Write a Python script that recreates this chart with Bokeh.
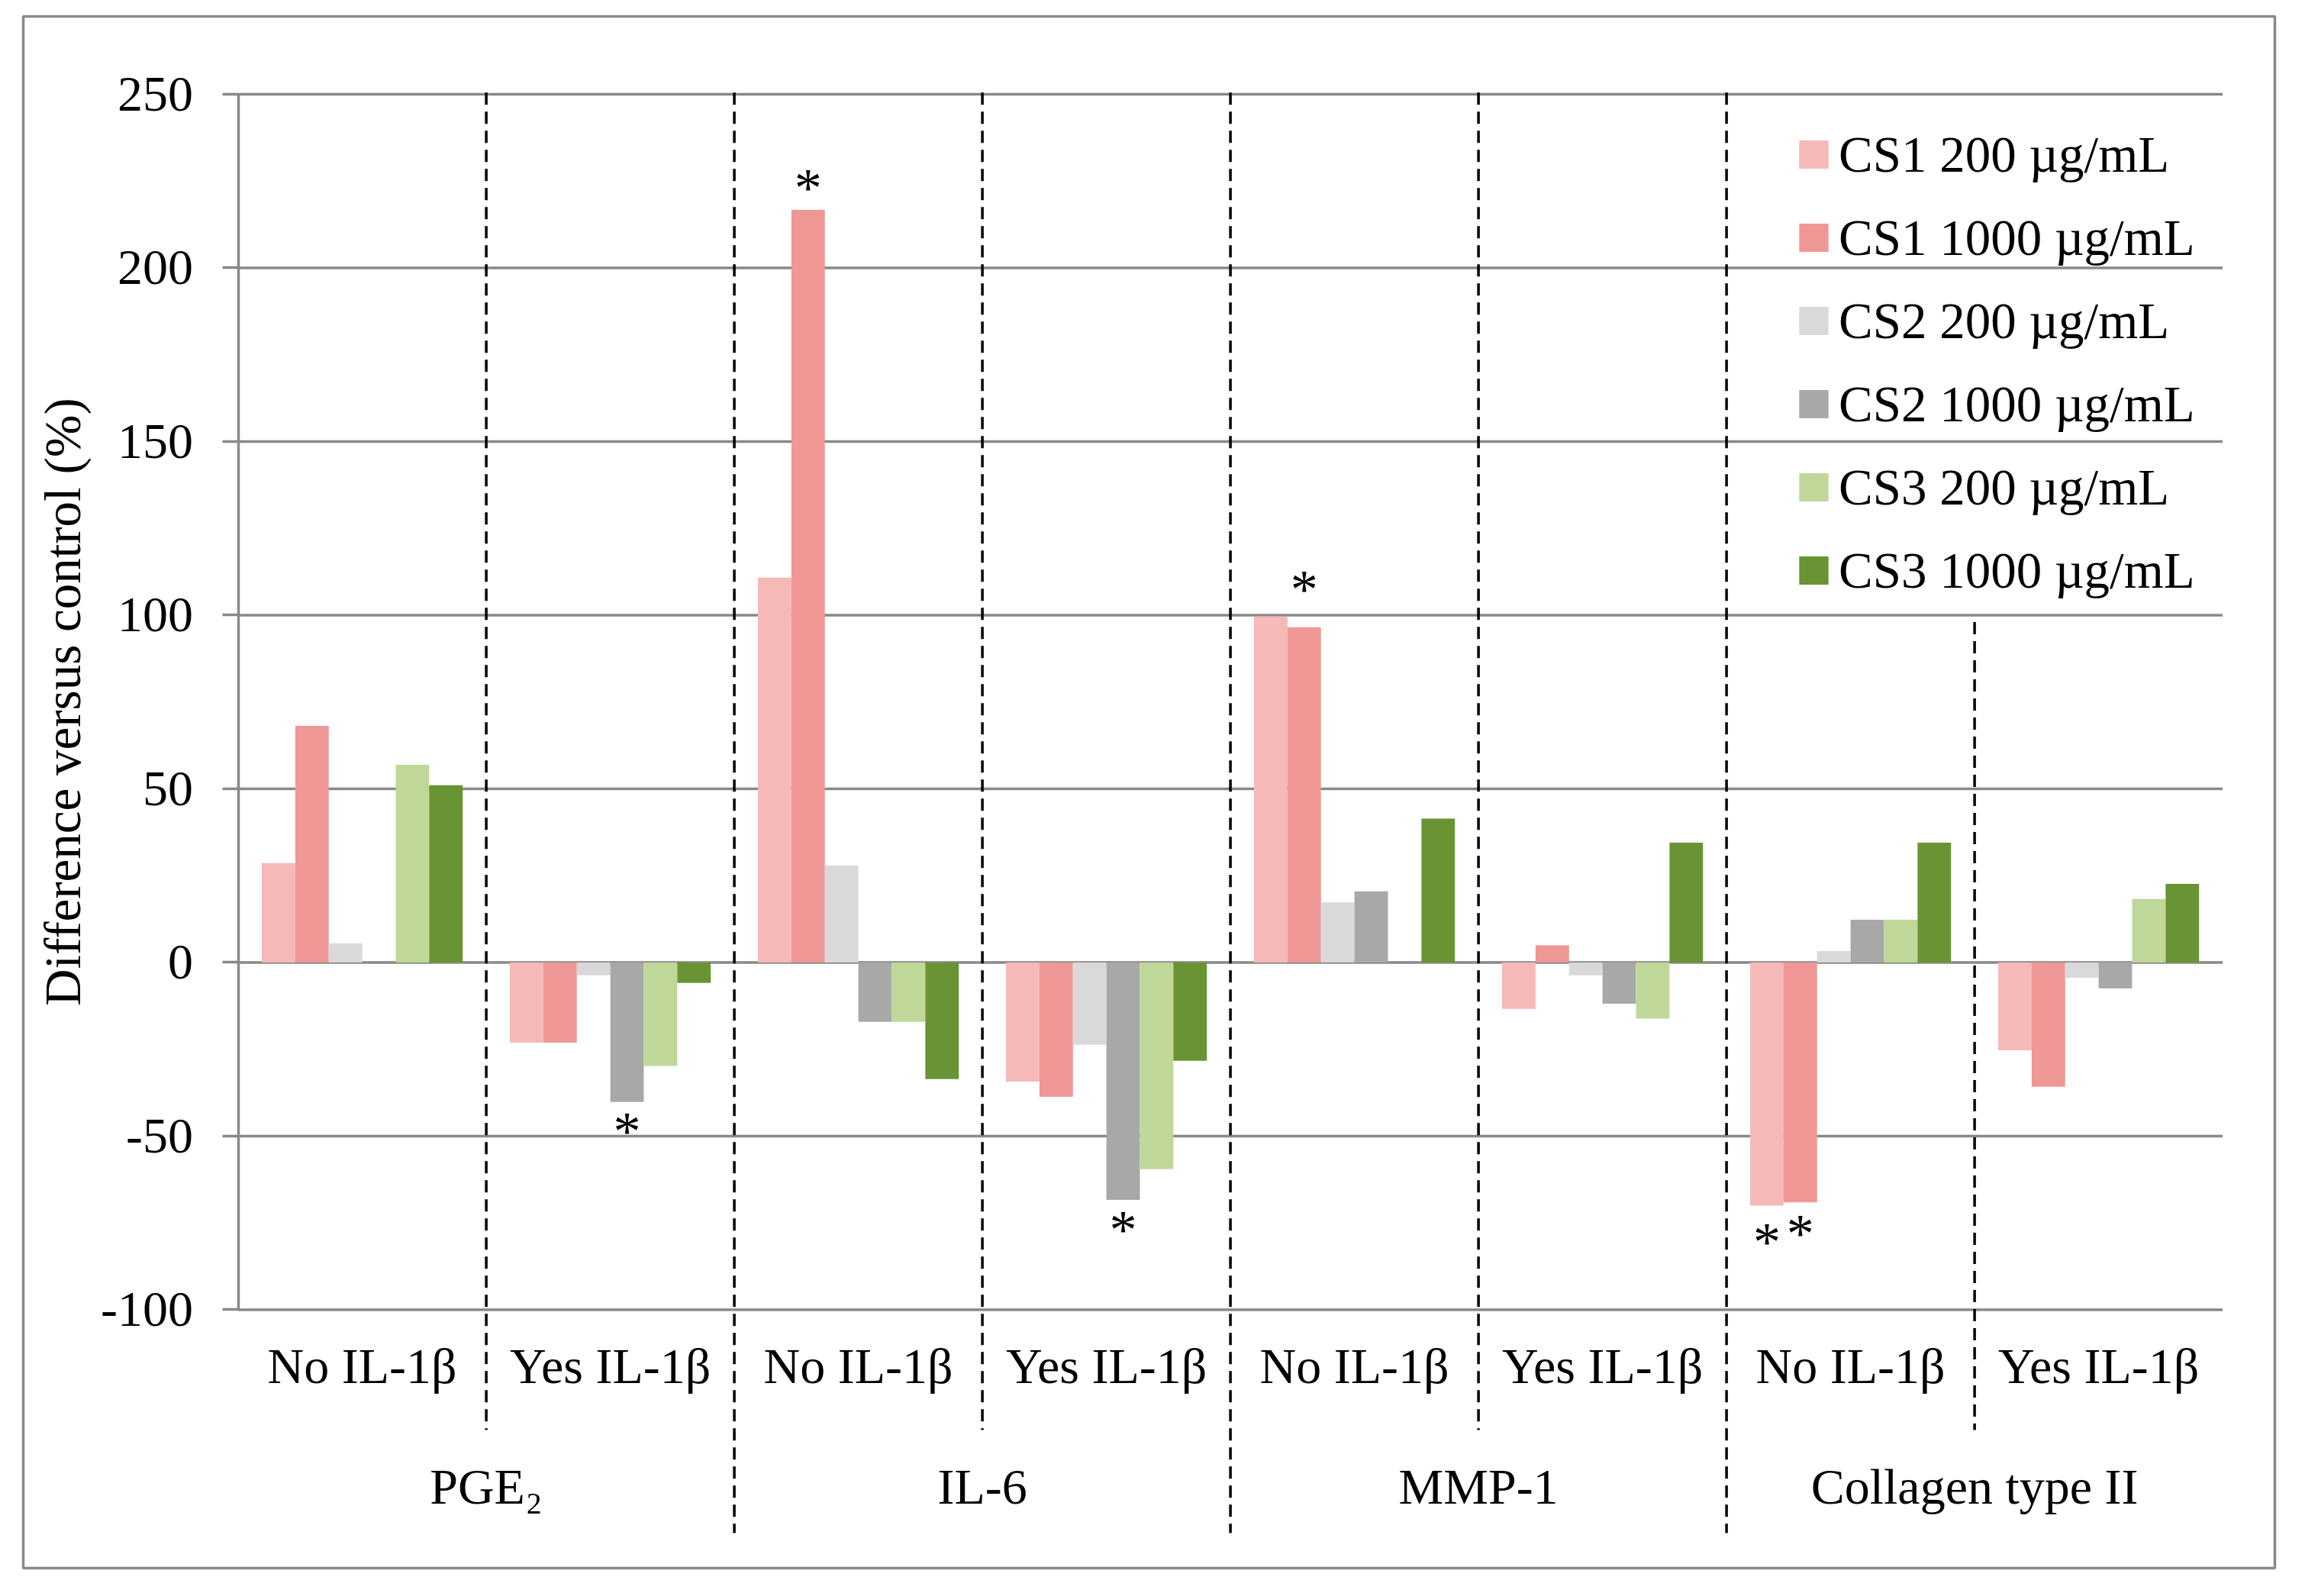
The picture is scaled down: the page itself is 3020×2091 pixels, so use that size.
from bokeh.plotting import figure
from bokeh.models import (ColumnDataSource, Range1d, LinearAxis, FixedTicker,
                          Legend, LegendItem, BoxAnnotation)
from bokeh.transform import dodge
from bokeh.core.properties import value
from bokeh.embed import file_html
from bokeh.resources import INLINE

# ---------------- data ----------------
markers = ["PGE\u2082", "IL-6", "MMP-1", "Collagen type II"]
conditions = ["No IL-1\u03b2", "Yes IL-1\u03b2"]
series = ["CS1 200 \u00b5g/mL", "CS1 1000 \u00b5g/mL", "CS2 200 \u00b5g/mL",
          "CS2 1000 \u00b5g/mL", "CS3 200 \u00b5g/mL", "CS3 1000 \u00b5g/mL"]
colors = ["#F5B9B8", "#EF9795", "#D9D9D9", "#A8A8A8", "#BFD89A", "#699433"]

cs1_200 = [28.6, -23.1, 110.8, -34.3, 99.6, -13.4, -70.0, -25.3]
cs1_1000 = [68.1, -23.1, 216.7, -38.7, 96.5, 4.9, -69.1, -35.8]
cs2_200 = [5.5, -3.7, 27.9, -23.7, 17.3, -3.7, 3.3, -4.4]
cs2_1000 = [0.0, -40.2, -17.1, -68.4, 20.5, -11.9, 12.3, -7.5]
cs3_200 = [56.9, -29.8, -17.1, -59.5, 0.0, -16.2, 12.3, 18.3]
cs3_1000 = [51.0, -5.9, -33.6, -28.3, 41.4, 34.5, 34.5, 22.6]
values = [cs1_200, cs1_1000, cs2_200, cs2_1000, cs3_200, cs3_1000]

# significance asterisks: marker, condition, series index, y of asterisk centre
star_marker = ["PGE\u2082", "IL-6", "IL-6", "MMP-1", "Collagen type II", "Collagen type II"]
star_cond = ["Yes IL-1\u03b2", "No IL-1\u03b2", "Yes IL-1\u03b2", "No IL-1\u03b2", "No IL-1\u03b2", "No IL-1\u03b2"]
star_series = [3, 1, 3, 1, 0, 1]
star_y = [-47.5, 224.2, -75.8, 108.6, -79.4, -77.0]

y_ticks = [-100, -50, 0, 50, 100, 150, 200, 250]
y_tick_labels = ["-100", "-50", "0", "50", "100", "150", "200", "250"]

# ---------------- layout / style ----------------
FONT = "Liberation Serif"
GRID = "#898989"
BAR_W = 0.135
CANVAS_W, CANVAS_H = 3004, 2075
PX_X = 325.0            # pixels per category slot
PX_Y = 4.55             # pixels per percent
PLOT_LEFT = 311.6       # canvas x of the value axis
ZERO_Y = 1260.4         # canvas y of the 0 line
n_slots = len(markers) * len(conditions)
Y_MIN, Y_MAX = y_ticks[0], y_ticks[-1]


def px_to_x(px):
    return (px - PLOT_LEFT) / PX_X


def px_to_y(py):
    return (ZERO_Y - py) / PX_Y


p = figure(x_range=Range1d(px_to_x(0), px_to_x(CANVAS_W)),
           y_range=Range1d(px_to_y(CANVAS_H), px_to_y(0)),
           width=CANVAS_W, height=CANVAS_H,
           x_axis_location=None, toolbar_location=None, output_backend="svg",
           background_fill_color="white", border_fill_color="white")
p.min_border = 0
p.outline_line_color = None
p.xgrid.visible = False
p.ygrid.visible = False

# horizontal grid lines across the plotting area only
p.segment(x0=0, x1=n_slots, y0=y_ticks, y1=y_ticks, line_color=GRID,
          line_width=3.5, level="underlay")

# value axis, fixed at the left edge of the plotting area
ya = p.yaxis[0]
ya.fixed_location = 0
ya.ticker = FixedTicker(ticks=y_ticks)
ya.major_label_overrides = dict(zip(y_ticks, y_tick_labels))
ya.bounds = (Y_MIN, Y_MAX)
ya.axis_line_color = GRID
ya.axis_line_width = 3.5
ya.major_tick_line_color = GRID
ya.major_tick_line_width = 3.5
ya.major_tick_out = 21
ya.major_tick_in = 0
ya.minor_tick_line_color = None
ya.major_label_text_font = FONT
ya.major_label_text_font_size = "66px"
ya.major_label_text_color = "black"
ya.major_label_standoff = 38
ya.axis_label = "Difference versus control (%)"
ya.axis_label_text_font = FONT
ya.axis_label_text_font_size = "67px"
ya.axis_label_text_font_style = "normal"
ya.axis_label_text_color = "black"
ya.axis_label_standoff = 11

# category axes, fixed at the bottom of the plotting area
slot_ticks = [i + 0.5 for i in range(n_slots)]
slot_labels = [c for m in markers for c in conditions]
group_ticks = [len(conditions) * (j + 0.5) for j in range(len(markers))]
ax_sub = LinearAxis(ticker=FixedTicker(ticks=slot_ticks),
                    major_label_overrides=dict(zip(slot_ticks, slot_labels)))
ax_grp = LinearAxis(ticker=FixedTicker(ticks=group_ticks),
                    major_label_overrides=dict(zip(group_ticks, markers)))
for ax, so in ((ax_sub, 37), (ax_grp, 195)):
    ax.fixed_location = Y_MIN
    ax.axis_line_color = None
    ax.major_tick_line_color = None
    ax.minor_tick_line_color = None
    ax.major_tick_out = 0
    ax.major_tick_in = 0
    ax.major_label_text_font = FONT
    ax.major_label_text_font_size = "66px"
    ax.major_label_text_color = "black"
    ax.major_label_standoff = so
    p.add_layout(ax, "below")

# bars
src = ColumnDataSource(dict(slot=slot_ticks, **{f"s{i}": v for i, v in enumerate(values)}))
items = []
for i, (name, col) in enumerate(zip(series, colors)):
    r = p.vbar(x=dodge("slot", (i - 2.5) * BAR_W), top=f"s{i}", bottom=0, width=BAR_W,
               source=src, fill_color=col, line_color=None)
    items.append(LegendItem(label=name, renderers=[r]))

# asterisks
star_slot = [markers.index(m) * len(conditions) + conditions.index(c) + 0.5
             for m, c in zip(star_marker, star_cond)]
for i in sorted(set(star_series)):
    idx = [k for k, s in enumerate(star_series) if s == i]
    ssrc = ColumnDataSource(dict(slot=[star_slot[k] for k in idx],
                                 y=[star_y[k] for k in idx], t=["*"] * len(idx)))
    p.text(x=dodge("slot", (i - 2.5) * BAR_W), y="y", text="t", source=ssrc,
           text_font=value(FONT), text_font_size="72px", text_align="center",
           text_baseline="alphabetic", y_offset=5, text_color="black")

# dashed separators (long ones between markers, short ones between conditions)
sep_x = list(range(1, n_slots))
sep_top = [98 if k == n_slots - 1 else Y_MAX + 0.5 for k in sep_x]
sep_bot = [px_to_y(2008) if k % len(conditions) == 0 else px_to_y(1873) for k in sep_x]
p.segment(x0=sep_x, y0=sep_top, x1=sep_x, y1=sep_bot, line_color="black",
          line_width=3.5, line_dash="16 9")

# outer frame of the picture
p.add_layout(BoxAnnotation(left=px_to_x(30), right=px_to_x(2980),
                           top=px_to_y(21), bottom=px_to_y(2054),
                           fill_alpha=0, line_color=GRID, line_alpha=1, line_width=3.5))

legend = Legend(items=items, location=(2352, CANVAS_H - 792), margin=0, padding=0,
                border_line_color=None, background_fill_alpha=0,
                label_text_font=FONT, label_text_font_size="67px",
                label_text_color="black", glyph_width=48, glyph_height=46,
                label_height=90, label_standoff=9, spacing=19)
p.add_layout(legend, "center")

open("out.html", "w").write(file_html(p, INLINE))
